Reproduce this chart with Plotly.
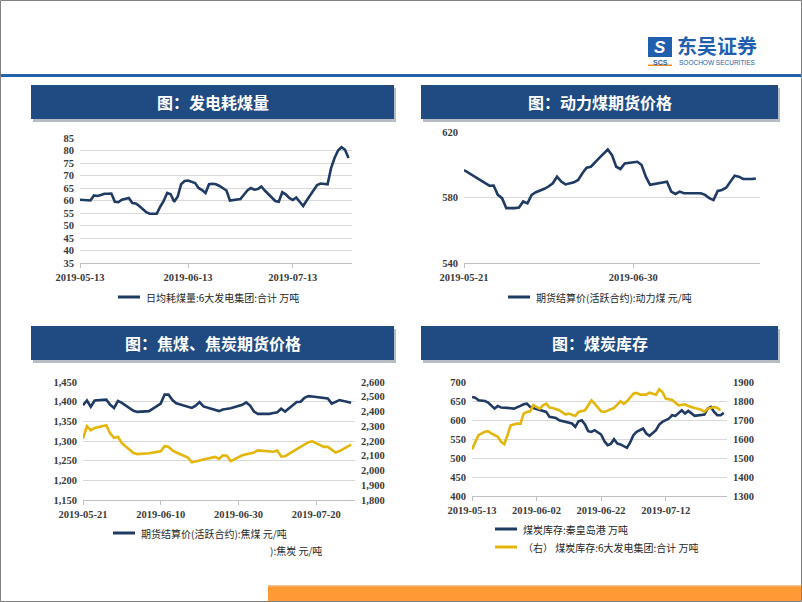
import pandas as pd
import plotly.graph_objects as go

W, H = 802, 602

# ---- chart 1: 日均耗煤量 (daily from 2019-05-13)
coal_use_start = "2019-05-13"
coal_use = [60.3, 60.3, 60.3, 60.0, 62.0, 61.8, 62.2, 62.7, 62.7, 62.8,
            59.5, 59.3, 60.3, 60.8, 61.0, 59.0, 58.8, 57.8, 56.5, 55.3,
            54.7, 54.7, 54.7, 57.5, 59.8, 63.0, 62.5, 59.5, 61.5, 66.5,
            67.8, 68.0, 67.5, 67.0, 65.0, 64.2, 63.0, 66.5, 66.7, 66.5,
            65.8, 64.8, 64.0, 60.0, 60.2, 60.3, 60.6, 62.3, 64.0, 65.0,
            64.3, 64.6, 65.6, 64.0, 62.5, 61.0, 59.8, 59.5, 63.3, 62.5,
            61.0, 60.2, 61.2, 59.5, 57.8, 60.0, 62.0, 64.5, 66.2, 66.8,
            66.7, 66.5, 73.0, 77.0, 80.0, 81.3, 80.3, 77.0]
coal_use_dates = pd.date_range(coal_use_start, periods=len(coal_use), freq="D")

# ---- chart 2: 动力煤期货
thermal_dates = ["05-21", "05-22", "05-23", "05-24", "05-25", "05-26", "05-27", "05-28", "05-29", "05-30",
                 "05-31", "06-02", "06-03", "06-04", "06-05", "06-06", "06-07", "06-09", "06-10", "06-11",
                 "06-12", "06-13", "06-14", "06-16", "06-17", "06-18", "06-19", "06-20", "06-21", "06-22",
                 "06-24", "06-25", "06-26", "06-27", "06-28", "06-30", "07-01", "07-02", "07-03", "07-04",
                 "07-06", "07-07", "07-08", "07-09", "07-10", "07-11", "07-12", "07-14", "07-16", "07-17",
                 "07-18", "07-19", "07-20", "07-21", "07-22", "07-23", "07-24", "07-25", "07-26", "07-28",
                 "07-29"]
thermal = [596.8, 595.2, 593.7, 591.7, 590.5, 589.0, 587.2, 587.3, 581.6, 579.6,
           573.5, 573.5, 573.9, 577.6, 576.4, 581.6, 583.2, 585.3, 586.7, 588.7,
           592.7, 589.7, 588.0, 589.3, 590.7, 594.8, 598.2, 598.8, 601.8, 604.2,
           609.3, 605.9, 598.8, 597.4, 600.8, 601.4, 601.8, 599.8, 592.7, 587.7,
           588.5, 589.3, 589.7, 583.6, 582.2, 583.6, 582.6, 582.6, 582.6, 581.6,
           579.6, 578.4, 584.0, 584.6, 586.0, 589.7, 593.3, 592.7, 591.3, 591.3,
           591.5]

# ---- chart 3: 焦煤 / 焦炭期货
coke_dates = ["05-21", "05-22", "05-23", "05-24", "05-27", "05-28", "05-29", "05-30", "05-31", "06-03",
              "06-04", "06-05", "06-06", "06-07", "06-10", "06-11", "06-12", "06-13", "06-14", "06-17",
              "06-18", "06-19", "06-20", "06-21", "06-24", "06-25", "06-26", "06-27", "06-28", "07-01",
              "07-02", "07-03", "07-04", "07-05", "07-08", "07-09", "07-10", "07-11", "07-12", "07-15",
              "07-16", "07-17", "07-18", "07-19", "07-22", "07-23", "07-24", "07-25", "07-26", "07-29"]
coking_coal = [1391, 1403, 1387, 1403, 1405, 1392, 1384, 1402, 1397, 1377,
               1374, 1375, 1376, 1376, 1395, 1418, 1418, 1404, 1396, 1387,
               1384, 1390, 1399, 1388, 1378, 1376, 1380, 1382, 1383, 1392,
               1398, 1390, 1375, 1369, 1369, 1371, 1373, 1382, 1375, 1399,
               1400, 1410, 1414, 1413, 1408, 1408, 1395, 1400, 1404, 1397]
coke = [2217, 2300, 2273, 2289, 2307, 2251, 2221, 2228, 2185, 2118,
        2111, 2113, 2115, 2117, 2130, 2165, 2161, 2136, 2122, 2087,
        2055, 2059, 2068, 2074, 2092, 2078, 2103, 2100, 2064, 2103,
        2109, 2115, 2122, 2136, 2130, 2127, 2135, 2095, 2097, 2145,
        2163, 2180, 2192, 2198, 2160, 2160, 2140, 2122, 2132, 2176]

# ---- chart 4: 煤炭库存
port_dates = ["05-13", "05-14", "05-15", "05-17", "05-18", "05-19", "05-20", "05-21", "05-22", "05-24",
              "05-26", "05-28", "05-29", "05-30", "05-31", "06-01", "06-03", "06-05", "06-06", "06-08",
              "06-09", "06-11", "06-13", "06-14", "06-15", "06-16", "06-17", "06-18", "06-19", "06-20",
              "06-22", "06-23", "06-24", "06-25", "06-26", "06-27", "06-28", "06-30", "07-01", "07-02",
              "07-03", "07-05", "07-06", "07-07", "07-09", "07-10", "07-11", "07-13", "07-14", "07-15",
              "07-17", "07-18", "07-19", "07-21", "07-23", "07-24", "07-25", "07-26", "07-27", "07-28",
              "07-29", "07-30"]
port_stock = [660.6, 658.9, 651.9, 650.1, 645.8, 637.0, 630.0, 637.0, 632.7, 631.8,
              630.0, 637.0, 641.4, 643.1, 634.4, 631.8, 625.7, 621.3, 608.2, 605.5,
              599.4, 595.0, 590.7, 581.9, 596.8, 599.4, 588.1, 570.6, 568.8, 573.2,
              561.8, 544.3, 533.8, 537.3, 549.6, 538.2, 535.6, 526.8, 540.8, 560.1,
              568.8, 577.6, 564.4, 558.3, 573.2, 588.1, 595.0, 603.8, 612.5, 610.8,
              625.7, 616.9, 623.9, 610.8, 612.5, 614.3, 630.0, 634.4, 621.3, 612.5,
              612.5, 618.7]
plant_dates = ["05-13", "05-14", "05-15", "05-17", "05-18", "05-19", "05-21", "05-22", "05-23", "05-24",
               "05-25", "05-27", "05-28", "05-29", "05-30", "05-31", "06-01", "06-03", "06-04", "06-05",
               "06-06", "06-07", "06-09", "06-11", "06-12", "06-14", "06-15", "06-17", "06-18", "06-19",
               "06-20", "06-22", "06-23", "06-25", "06-26", "06-28", "06-29", "06-30", "07-02", "07-03",
               "07-04", "07-06", "07-07", "07-09", "07-10", "07-11", "07-12", "07-14", "07-15", "07-16",
               "07-18", "07-19", "07-21", "07-23", "07-24", "07-25", "07-26", "07-27", "07-28", "07-29"]
plant_stock = [1545.0, 1585.2, 1620.2, 1637.7, 1641.1, 1628.9, 1611.4, 1585.2, 1572.9, 1620.2,
               1672.6, 1681.4, 1679.6, 1733.8, 1742.6, 1746.1, 1777.6, 1760.1, 1777.6, 1786.3,
               1765.3, 1763.6, 1751.3, 1728.6, 1734.0, 1721.6, 1742.6, 1751.3, 1781.1, 1803.8,
               1786.3, 1746.1, 1742.6, 1754.8, 1763.6, 1798.6, 1784.6, 1798.6, 1838.8, 1842.3,
               1833.5, 1833.5, 1844.0, 1833.5, 1861.5, 1847.5, 1812.6, 1805.6, 1789.8, 1777.6,
               1782.8, 1774.1, 1763.6, 1754.8, 1742.6, 1760.1, 1763.6, 1768.8, 1763.6, 1751.3]

titles = ["图：发电耗煤量", "图：动力煤期货价格", "图：焦煤、焦炭期货价格", "图：煤炭库存"]
NAVY = "#1f3a63"
GOLD = "#e3b60c"
TICK_FONT = dict(family="Liberation Serif", size=10.5, color="#3a3a3a", weight="bold")
CJK = "Noto Sans CJK SC"


def d(lst):
    return ["2019-" + s for s in lst]


def px(x):
    return x / W


def py(y):
    return 1 - y / H


fig = go.Figure()
fig.add_trace(go.Scatter(x=coal_use_dates, y=coal_use, mode="lines",
                         line=dict(color=NAVY, width=2.6), xaxis="x", yaxis="y"))
fig.add_trace(go.Scatter(x=d(thermal_dates), y=thermal, mode="lines",
                         line=dict(color=NAVY, width=2.6), xaxis="x2", yaxis="y2"))
fig.add_trace(go.Scatter(x=d(coke_dates), y=coking_coal, mode="lines",
                         line=dict(color=NAVY, width=2.6), xaxis="x3", yaxis="y3"))
fig.add_trace(go.Scatter(x=d(coke_dates), y=coke, mode="lines",
                         line=dict(color=GOLD, width=2.6), xaxis="x3", yaxis="y5"))
fig.add_trace(go.Scatter(x=d(port_dates), y=port_stock, mode="lines",
                         line=dict(color=NAVY, width=2.6), xaxis="x4", yaxis="y4"))
fig.add_trace(go.Scatter(x=d(plant_dates), y=plant_stock, mode="lines",
                         line=dict(color=GOLD, width=2.6), xaxis="x4", yaxis="y6"))


def xax(x0, x1, rng, ticks, anchor):
    return dict(domain=[px(x0), px(x1)], anchor=anchor, type="date", range=rng,
                tickvals=ticks, tickformat="%Y-%m-%d", showgrid=False,
                showline=True, linecolor="#bfbfbf", linewidth=1,
                ticks="outside", ticklen=4, tickcolor="#bfbfbf",
                tickfont=TICK_FONT, fixedrange=True, automargin=False)


def yax(y0, y1, rng, dtick, anchor, fmt="", grid=True, side="left", overlay=None):
    a = dict(domain=[py(y1), py(y0)], anchor=anchor, range=rng, dtick=dtick,
             tick0=rng[0], tickformat=fmt, showgrid=grid, gridcolor="#d9d9d9",
             gridwidth=1, zeroline=False, showline=False, ticks="",
             tickfont=TICK_FONT, side=side, ticklabelstandoff=5,
             automargin=False, fixedrange=True)
    if overlay:
        a["overlaying"] = overlay
    return a


fig.update_layout(
    template="none",
    width=W, height=H, margin=dict(l=0, r=0, t=0, b=0, pad=0), autosize=False,
    paper_bgcolor="white", plot_bgcolor="white", showlegend=False,
    xaxis=xax(80, 352, ["2019-05-13", "2019-07-30"],
              ["2019-05-13", "2019-06-13", "2019-07-13"], "y"),
    yaxis=yax(138, 263, [35, 85], 5, "x"),
    xaxis2=xax(464, 760, ["2019-05-21", "2019-07-30"],
               ["2019-05-21", "2019-06-30"], "y2"),
    yaxis2=yax(132, 263, [540, 620], 40, "x2"),
    xaxis3=xax(83, 355, ["2019-05-21", "2019-07-30"],
               ["2019-05-21", "2019-06-10", "2019-06-30", "2019-07-20"], "y3"),
    yaxis3=yax(382, 500, [1150, 1450], 50, "x3", fmt=","),
    yaxis5=yax(382, 500, [1800, 2600], 100, "x3", fmt=",", grid=False,
               side="right", overlay="y3"),
    xaxis4=xax(472, 727, ["2019-05-13", "2019-07-31"],
               ["2019-05-13", "2019-06-02", "2019-06-22", "2019-07-12"], "y4"),
    yaxis4=yax(382, 496, [400, 700], 50, "x4"),
    yaxis6=yax(382, 496, [1300, 1900], 100, "x4", grid=False,
               side="right", overlay="y4"),
)

shapes = []
annotations = []


def rect(x0, y0, x1, y1, fill, line=None, layer="below"):
    shapes.append(dict(type="rect", xref="paper", yref="paper",
                       x0=px(x0), x1=px(x1), y0=py(y1), y1=py(y0),
                       fillcolor=fill, line=dict(width=0) if line is None else line,
                       layer=layer))


def text(x, y, s, size, color, family=CJK, weight="normal", xanchor="left"):
    annotations.append(dict(x=px(x), y=py(y), xref="paper", yref="paper", text=s,
                            showarrow=False, xanchor=xanchor, yanchor="middle",
                            font=dict(family=family, size=size, color=color, weight=weight)))


# page frame, header rule, footer bar
rect(0.5, 0.5, 801.5, 601.5, "rgba(0,0,0,0)", line=dict(color="#808080", width=1), layer="above")
rect(0, 74, W, 77, "#2263b0")
rect(268, 585, 801, 601, "#ff9933")
rect(268, 585, 801, 586.5, "#f0c090")

# logo
rect(648, 37, 672, 57, "#1f5fae")
text(660, 47, "<i>S</i>", 17, "white", family="Liberation Sans", weight="bold", xanchor="center")
text(660, 62, "SCS", 7, "#1f5fae", family="Liberation Sans", weight="bold", xanchor="center")
rect(648, 64.5, 672, 66, "#f08a24")
text(675, 45.5, "东吴证券", 20, "#1f5fae", weight="bold")
text(677, 62.5, "SOOCHOW SECURITIES", 6.5, "#1f5fae", family="Liberation Sans")

# header boxes
boxes = [(31, 85, 394, 119), (421, 85, 778, 119), (31, 326, 394, 360), (421, 326, 778, 360)]
for (x0, y0, x1, y1), t in zip(boxes, titles):
    rect(x0 + 2, y0 + 3, x1 + 2, y1 + 3, "#b8bcc4")
    rect(x0, y0, x1, y1, "#1f4b82")
    text((x0 + x1) / 2, (y0 + y1) / 2, t, 16, "white", weight="bold", xanchor="center")


# legends
def legend_line(x0, x1, y, color):
    shapes.append(dict(type="line", xref="paper", yref="paper", x0=px(x0), x1=px(x1),
                       y0=py(y), y1=py(y), line=dict(color=color, width=3)))


legend_line(118, 140, 297, NAVY)
text(144, 297, "日均耗煤量:6大发电集团:合计 万吨", 10, "#262626")
legend_line(508, 530, 297, NAVY)
text(534, 297, "期货结算价(活跃合约):动力煤 元/吨", 10, "#262626")
legend_line(113, 135, 533, NAVY)
text(139, 533, "期货结算价(活跃合约):焦煤 元/吨", 10, "#262626")
text(268, 550, "):焦炭 元/吨", 10, "#262626")
legend_line(495, 517, 529, NAVY)
text(521, 529, "煤炭库存:秦皇岛港 万吨", 10, "#262626")
legend_line(495, 517, 547, GOLD)
text(521, 547, "（右） 煤炭库存:6大发电集团:合计 万吨", 10, "#262626")

fig.update_layout(shapes=shapes, annotations=annotations)
fig.write_html("out.html", config={"displayModeBar": False},
               post_script="document.body.style.margin='0';document.body.style.overflow='hidden';")
